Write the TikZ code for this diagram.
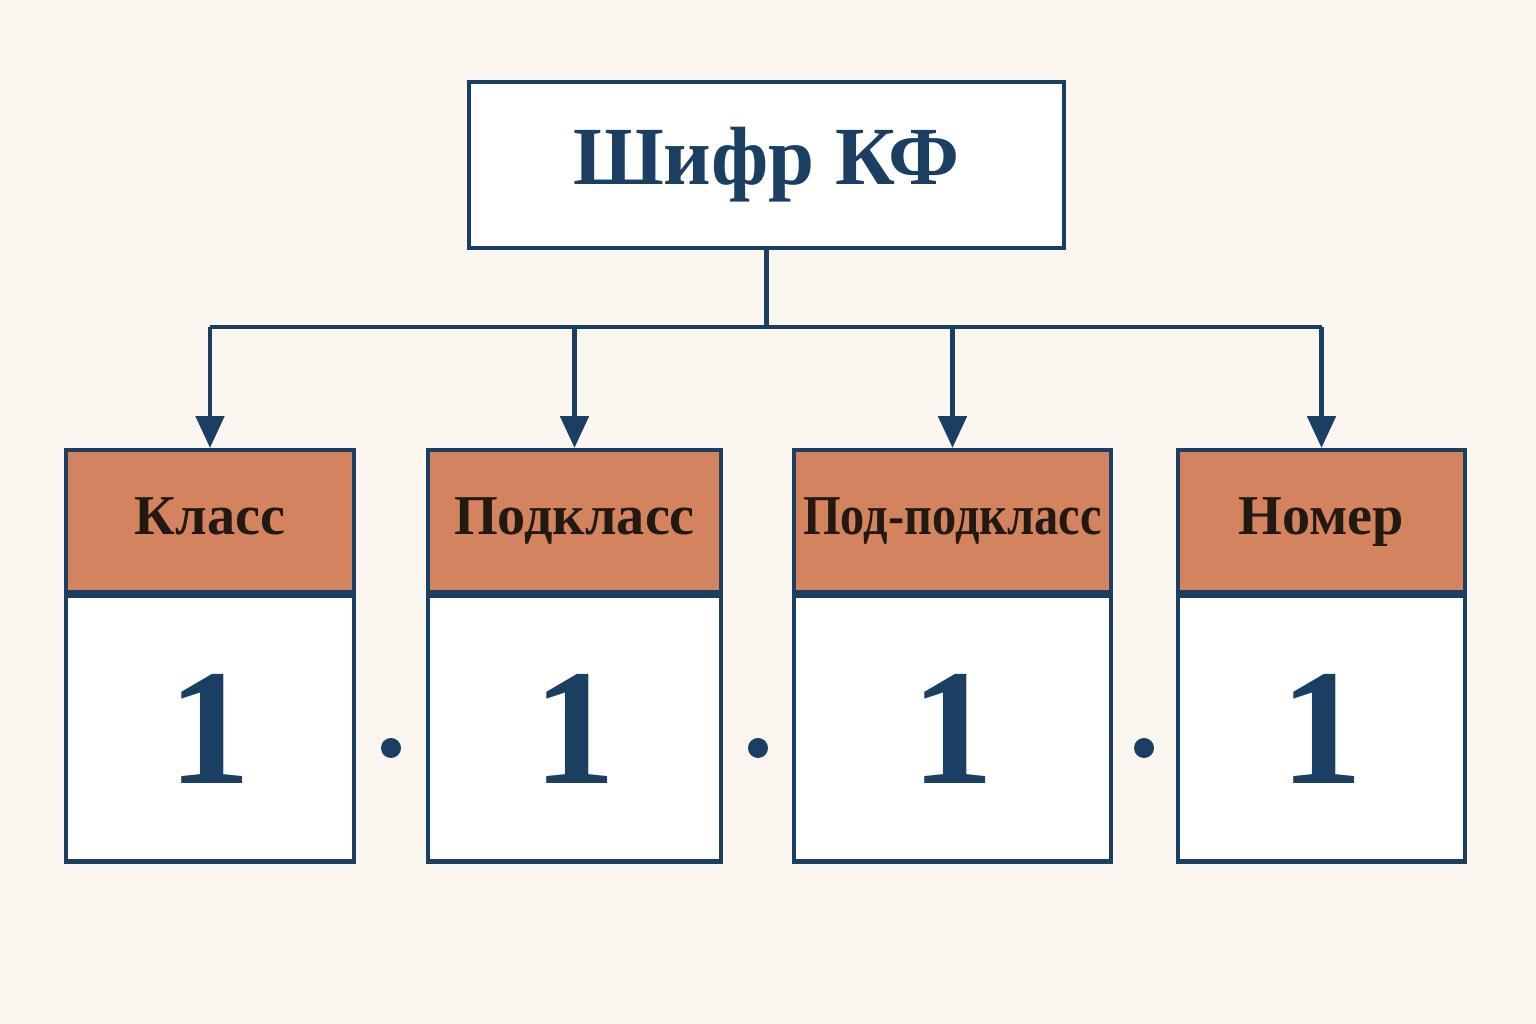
\documentclass[tikz,border=0pt]{standalone}
\usepackage{fontspec}
\setmainfont{Liberation Serif}
\usetikzlibrary{positioning,arrows.meta}
\definecolor{bgcol}{HTML}{FBF6F0}
\definecolor{navy}{HTML}{1B3F63}
\definecolor{terra}{HTML}{D4835F}
\definecolor{ink}{HTML}{221A12}
\begin{document}
\begin{tikzpicture}[x=0.01cm,y=0.01cm]
	\tikzset{
		titlebox/.style={draw=navy, line width=1.2pt, fill=white, minimum width=5.95cm, minimum height=1.66cm, text=navy, font=\fontsize{23.5}{28}\selectfont\bfseries},
		headbox/.style={draw=navy, line width=1.2pt, fill=terra, minimum height=1.42cm, text=ink, font=\fontsize{16}{19}\selectfont\bfseries, inner sep=0pt, text depth=0.6ex},
		valbox/.style={draw=navy, line width=1.2pt, fill=white, minimum height=2.65cm, text=navy, font=\fontsize{47}{52}\selectfont\bfseries},
		link/.style={draw=navy, line width=1.2pt},
		dot/.style={circle, fill=navy, minimum size=0.2cm, inner sep=0pt}
	}
	\fill[bgcol] (0,0) rectangle (1536,1024);
	\useasboundingbox (0,0) rectangle (1536,1024);
	
	\node[titlebox] (kf) at (766.5,859) {Шифр КФ};
	
	\node[headbox, minimum width=2.88cm] (hclass) at (210,503) {Класс};
	\node[headbox, minimum width=2.93cm] (hsub) at (574.5,503) {Подкласс};
	\node[headbox, minimum width=3.17cm] (hsubsub) at (952.5,503) {\scalebox{0.86}[1]{Под-подкласс}};
	\node[headbox, minimum width=2.87cm] (hnum) at (1321.5,503) {Номер};
	
	\node[valbox, minimum width=2.88cm, below=0pt of hclass] (vclass) {1};
	\node[valbox, minimum width=2.93cm, below=0pt of hsub] (vsub) {1};
	\node[valbox, minimum width=3.17cm, below=0pt of hsubsub] (vsubsub) {1};
	\node[valbox, minimum width=2.87cm, below=0pt of hnum] (vnum) {1};
	
	%dots
	\node[dot] (d1) at (391,276) {};
	\node[dot] (d2) at (758,276) {};
	\node[dot] (d3) at (1144,276) {};
	
	%Arrows
	\coordinate (fork) at (766.5,697);
	\draw[link] (kf) -- (fork);
	\draw[link] (hclass.north |- fork) -- (hnum.north |- fork);
	\draw[link,-{Triangle[width=8pt,length=9pt]}] (hclass.north |- fork) -- (hclass.north);
	\draw[link,-{Triangle[width=8pt,length=9pt]}] (hsub.north |- fork) -- (hsub.north);
	\draw[link,-{Triangle[width=8pt,length=9pt]}] (hsubsub.north |- fork) -- (hsubsub.north);
	\draw[link,-{Triangle[width=8pt,length=9pt]}] (hnum.north |- fork) -- (hnum.north);
\end{tikzpicture}
\end{document}
